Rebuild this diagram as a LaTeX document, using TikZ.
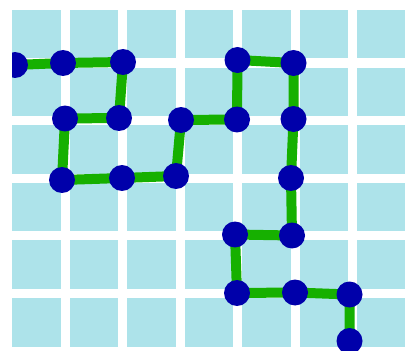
\documentclass[tikz,border=0pt]{standalone}
\usepackage{tikz}
\definecolor{cellblue}{HTML}{ADE3EA}
\definecolor{walkgreen}{HTML}{16B000}
\definecolor{sitenavy}{HTML}{0000AA}

\begin{document}
\begin{tikzpicture}[x=0.02cm,y=-0.02cm,line cap=round,line join=round,
  cell/.style={fill=cellblue},
  walk/.style={draw=walkgreen,line width=0.2cm},
  site/.style={circle,inner sep=0pt,minimum size=0.52cm,fill=sitenavy}]
\path[use as bounding box] (0,0) rectangle (405,351);
\fill[white] (0,0) rectangle (405,351);

\begin{scope}
\clip (12,10) rectangle (405,351);

% lattice cells
\foreach \i in {0,...,6} {
  \foreach \j in {0,...,5} {
    \fill[cell] ({12+57.5*\i},{10+57.6*\j}) rectangle +(48.5,48.5);
  }
}

% lattice sites visited by the walk
\coordinate (v1) at (15,65);
\coordinate (v2) at (63,63);
\coordinate (v3) at (123,62);
\coordinate (v4) at (119,118);
\coordinate (v5) at (65,118.5);
\coordinate (v6) at (62,180);
\coordinate (v7) at (122,178);
\coordinate (v8) at (176,176);
\coordinate (v9) at (181,120);
\coordinate (v10) at (237,119.5);
\coordinate (v11) at (237.5,60);
\coordinate (v12) at (293.5,63);
\coordinate (v13) at (293.5,119);
\coordinate (v14) at (291,178);
\coordinate (v15) at (292,235.5);
\coordinate (v16) at (235,234.5);
\coordinate (v17) at (237,293);
\coordinate (v18) at (295,292.5);
\coordinate (v19) at (349.5,294.5);
\coordinate (v20) at (349.5,341);

% the walk
\draw[walk] (v1)--(v2)--(v3)--(v4)--(v5)--(v6)--(v7)--(v8)--(v9)--(v10)
  --(v11)--(v12)--(v13)--(v14)--(v15)--(v16)--(v17)--(v18)--(v19)--(v20);

\foreach \k in {1,...,20} {
  \node[site] (dot\k) at (v\k) {};
}
\end{scope}
\end{tikzpicture}
\end{document}
